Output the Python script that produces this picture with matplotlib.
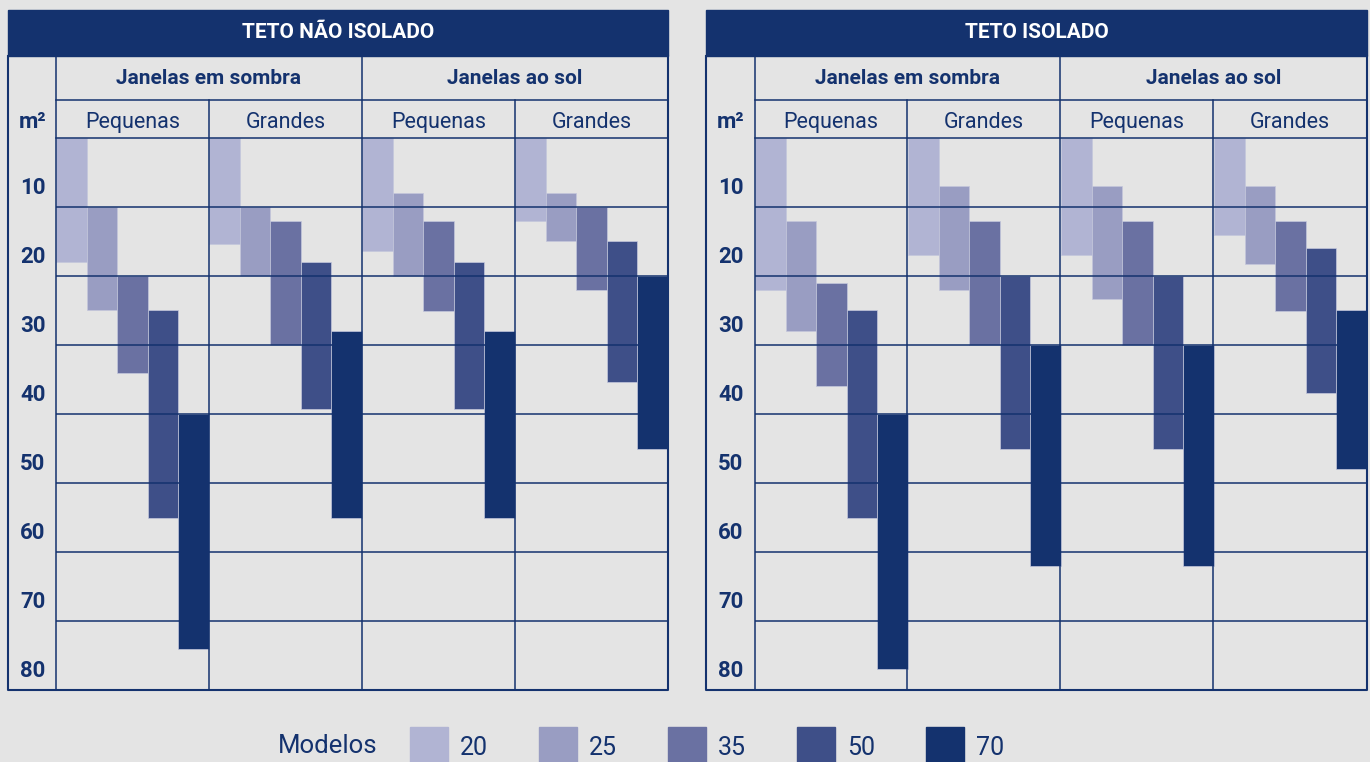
import matplotlib.pyplot as plt
from matplotlib.patches import Rectangle
from matplotlib.transforms import blended_transform_factory

plt.rcParams['font.family'] = ['Roboto', 'DejaVu Sans']

modelos = ['20', '25', '35', '50', '70']
cores = ['#b1b4d3', '#999dc2', '#6a71a2', '#3e4f88', '#14326e']
janelas = ['Janelas em sombra', 'Janelas ao sol']
tamanhos = ['Pequenas', 'Grandes', 'Pequenas', 'Grandes']
area_ticks = [10, 20, 30, 40, 50, 60, 70, 80]

# linhas = modelos (20..70), colunas = sombra/pequenas, sombra/grandes, sol/pequenas, sol/grandes
nao_isolado_ini = [
    [0, 0, 0, 0],
    [10, 10, 8, 8],
    [20, 12, 12, 10],
    [25, 18, 18, 15],
    [40, 28, 28, 20],
]
nao_isolado_fim = [
    [18, 15.3, 16.4, 12],
    [25, 20, 20, 15],
    [34, 30, 25, 22],
    [55, 39.3, 39.3, 35.4],
    [74, 55, 55, 45],
]
isolado_ini = [
    [0, 0, 0, 0],
    [12, 7, 7, 7],
    [21, 12, 12, 12],
    [25, 20, 20, 16],
    [40, 30, 30, 25],
]
isolado_fim = [
    [22, 17, 17, 14],
    [28, 22, 23.3, 18.3],
    [36, 30, 30, 25],
    [55, 45, 45, 37],
    [77, 62, 62, 48],
]

azul = '#14326e'
fundo = '#e4e4e4'
W, H = 1370, 762

fig = plt.figure(figsize=(13.7, 7.62), dpi=100, facecolor=fundo)
base = fig.add_axes([0, 0, 1, 1], zorder=3)
base.set_xlim(0, W)
base.set_ylim(H, 0)
base.patch.set_alpha(0)
base.axis('off')


def painel(x0, x1, cols, titulo, ini, fim):
    xm = cols[0]
    top, h1, h2, h3, bot = 10, 56, 100, 138, 690
    lw = 1.1

    # cabeçalho
    base.add_patch(Rectangle((x0, top), x1 - x0, h1 - top, color=azul))
    base.text((x0 + x1) / 2, (top + h1) / 2 - 1, titulo, color='white',
              fontsize=15, fontweight='bold', ha='center', va='center')
    base.text((cols[0] + cols[2]) / 2, (h1 + h2) / 2, janelas[0], color=azul,
              fontsize=15, fontweight='bold', ha='center', va='center')
    base.text((cols[2] + cols[4]) / 2, (h1 + h2) / 2, janelas[1], color=azul,
              fontsize=15, fontweight='bold', ha='center', va='center')
    for c, t in enumerate(tamanhos):
        base.text((cols[c] + cols[c + 1]) / 2, (h2 + h3) / 2 + 1, t, color=azul,
                  fontsize=15.5, ha='center', va='center_baseline')
    base.text(x0 + 11, (h2 + h3) / 2 + 1, 'm²', color=azul, fontsize=16,
              fontweight='bold', ha='left', va='center_baseline')

    # moldura
    base.plot([x0, x0, x1, x1], [h1, bot, bot, h1], color=azul, lw=1.5)
    base.plot([xm, xm], [h1, bot], color=azul, lw=lw)
    base.plot([cols[2], cols[2]], [h1, bot], color=azul, lw=lw)
    base.plot([cols[1], cols[1]], [h2, bot], color=azul, lw=lw)
    base.plot([cols[3], cols[3]], [h2, bot], color=azul, lw=lw)
    base.plot([xm, x1], [h2, h2], color=azul, lw=lw)
    base.plot([xm, x1], [h3, h3], color=azul, lw=lw)

    # barras
    ax = fig.add_axes([xm / W, (H - bot) / H, (x1 - xm) / W, (bot - h3) / H], zorder=2)
    ax.patch.set_alpha(0)
    ax.set_xlim(0, 20)
    ax.set_ylim(80, 0)
    for i, m in enumerate(modelos):
        x = [c * 5 + i + 0.5 for c in range(4)]
        alturas = [f - s for s, f in zip(ini[i], fim[i])]
        ax.bar(x, alturas, bottom=ini[i], width=1.0, color=cores[i],
               edgecolor='#c4c7dc', linewidth=0.5, zorder=1)
    for v in area_ticks[:-1]:
        ax.axhline(v, color=azul, lw=lw, zorder=2)
    ax.axis('off')

    tr = blended_transform_factory(ax.transAxes, ax.transData)
    for v in area_ticks:
        ax.text((x0 + 12 - xm) / (x1 - xm), v - 2.8, str(v), transform=tr,
                color=azul, fontsize=16, fontweight='bold', ha='left', va='center')


painel(8, 668, [56, 209, 362, 515, 668], 'TETO NÃO ISOLADO', nao_isolado_ini, nao_isolado_fim)
painel(706, 1367, [755, 907, 1060, 1213, 1367], 'TETO ISOLADO', isolado_ini, isolado_fim)

# legenda
base.text(278, 746, 'Modelos', color=azul, fontsize=18.5, ha='left', va='center')
for i, m in enumerate(modelos):
    xs = 410 + i * 129
    base.add_patch(Rectangle((xs, 727), 38, 40, color=cores[i], clip_on=False))
    base.text(xs + 50, 748, m, color=azul, fontsize=18, ha='left', va='center')

fig.savefig('out.png', dpi=100, facecolor=fundo)
